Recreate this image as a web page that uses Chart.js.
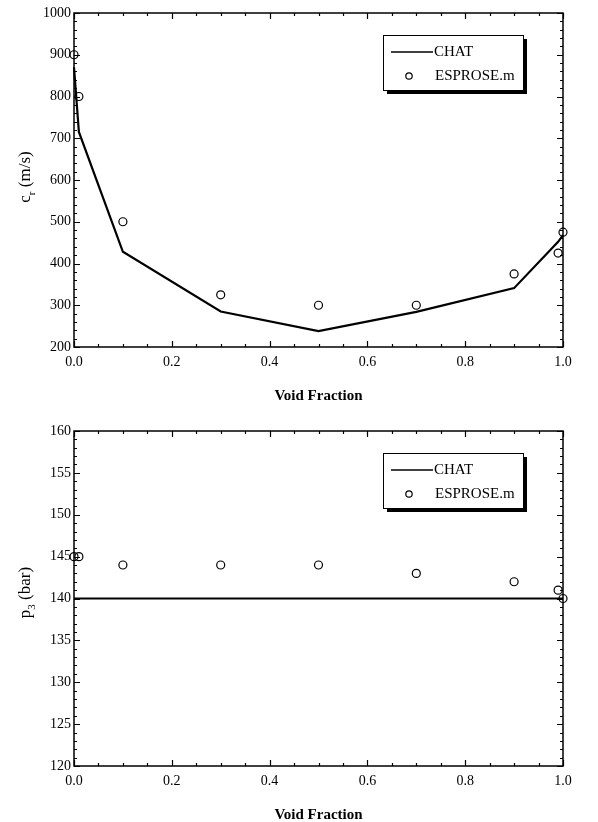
<!DOCTYPE html>
<html lang="en">
<head>
  <meta charset="UTF-8" />
  <title>Void Fraction charts</title>
  <script src="https://cdn.jsdelivr.net/npm/chart.js"></script>
  <style>
    body { margin: 0; background: #fff; }
    .wrap { position: absolute; left: 0; width: 598px; }
    #top { top: 0; height: 415px; }
    #bottom { top: 415px; height: 407px; }
  </style>
</head>
<body>
<div class="wrap" id="top"><canvas id="crChart" width="598" height="415"></canvas></div>
<div class="wrap" id="bottom"><canvas id="p3Chart" width="598" height="407"></canvas></div>

<script>
  // data
  const chatX = [0, 0.01, 0.1, 0.3, 0.5, 0.7, 0.9, 0.99, 1.0];
  const chatCr = [870, 715, 428, 285, 238, 284, 341, 452, 468];
  const esproseX = [0, 0.01, 0.1, 0.3, 0.5, 0.7, 0.9, 0.99, 1.0];
  const esproseCr = [900, 800, 500, 325, 300, 300, 375, 425, 475];
  const chatP3 = [140, 140, 140, 140, 140, 140, 140, 140, 140];
  const esproseP3 = [145, 145, 144, 144, 144, 143, 142, 141, 140];

  const xTicks = [0, 0.2, 0.4, 0.6, 0.8, 1.0];
  const crTicks = [200, 300, 400, 500, 600, 700, 800, 900, 1000];
  const p3Ticks = [120, 125, 130, 135, 140, 145, 150, 155, 160];

  const FONT = '"Liberation Serif", "DejaVu Serif", serif';

  const pts = (xs, ys) => xs.map((x, i) => ({ x, y: ys[i] }));

  // frame, inward ticks on all sides, axis titles, legend with shadow
  const framePlugin = {
    id: 'frame',
    afterDraw(chart, args, opts) {
      const { ctx, chartArea: a, scales } = chart;
      const xs = scales.x, ys = scales.y;
      ctx.save();
      ctx.strokeStyle = '#000';
      ctx.lineWidth = 1.5;
      ctx.strokeRect(a.left, a.top, a.right - a.left, a.bottom - a.top);

      ctx.lineWidth = 1.2;
      ctx.beginPath();
      const xMinor = 0.05;
      for (let v = 0; v <= 1.0001; v += xMinor) {
        const major = Math.abs(v * 5 - Math.round(v * 5)) < 1e-6;
        const len = major ? 6 : 3;
        const px = Math.round(xs.getPixelForValue(v)) + 0.5;
        ctx.moveTo(px, a.bottom); ctx.lineTo(px, a.bottom - len);
        ctx.moveTo(px, a.top); ctx.lineTo(px, a.top + len);
      }
      const yt = opts.yTicks;
      const yStep = (yt[1] - yt[0]) / opts.yMinorPer;
      for (let v = yt[0]; v <= yt[yt.length - 1] + 1e-6; v += yStep) {
        const major = yt.some(t => Math.abs(t - v) < 1e-6);
        const len = major ? 6 : 3;
        const py = Math.round(ys.getPixelForValue(v)) + 0.5;
        ctx.moveTo(a.left, py); ctx.lineTo(a.left + len, py);
        ctx.moveTo(a.right, py); ctx.lineTo(a.right - len, py);
      }
      ctx.stroke();

      // x title
      ctx.fillStyle = '#000';
      ctx.font = 'bold 15px ' + FONT;
      ctx.textAlign = 'center';
      ctx.textBaseline = 'middle';
      ctx.fillText('Void Fraction', (a.left + a.right) / 2, opts.xTitleY);

      // y title with subscript
      ctx.save();
      ctx.translate(opts.yTitleX, (a.top + a.bottom) / 2 + opts.yTitleShift);
      ctx.rotate(-Math.PI / 2);
      ctx.textAlign = 'left';
      ctx.textBaseline = 'alphabetic';
      const big = '17px ' + FONT, small = '11px ' + FONT;
      ctx.font = big; const w1 = ctx.measureText(opts.yMain).width;
      ctx.font = small; const w2 = ctx.measureText(opts.ySub).width;
      ctx.font = big; const w3 = ctx.measureText(opts.yUnit).width;
      let x0 = -(w1 + w2 + w3) / 2;
      ctx.font = big; ctx.fillText(opts.yMain, x0, 5); x0 += w1;
      ctx.font = small; ctx.fillText(opts.ySub, x0, 10); x0 += w2;
      ctx.font = big; ctx.fillText(opts.yUnit, x0, 5);
      ctx.restore();

      // legend
      const lx = 383, ly = opts.legendTop, lw = 140, lh = 55;
      ctx.fillStyle = '#000';
      ctx.fillRect(lx + 4, ly + 4, lw, lh);
      ctx.fillStyle = '#fff';
      ctx.fillRect(lx, ly, lw, lh);
      ctx.lineWidth = 1;
      ctx.strokeStyle = '#000';
      ctx.strokeRect(lx + 0.5, ly + 0.5, lw, lh);
      ctx.lineWidth = 1.5;
      ctx.beginPath();
      ctx.moveTo(lx + 8, ly + 17); ctx.lineTo(lx + 50, ly + 17);
      ctx.stroke();
      ctx.beginPath();
      ctx.arc(lx + 26, ly + 41, 3.2, 0, Math.PI * 2);
      ctx.lineWidth = 1.2;
      ctx.stroke();
      ctx.fillStyle = '#000';
      ctx.font = '15px ' + FONT;
      ctx.textAlign = 'left';
      ctx.textBaseline = 'middle';
      ctx.fillText('CHAT', lx + 51, ly + 17);
      ctx.fillText('ESPROSE.m', lx + 52, ly + 41);
      ctx.restore();
    }
  };

  const makeChart = (id, chatY, espY, yMin, yMax, cfg) => {
    const ctx = document.getElementById(id).getContext('2d');
    return new Chart(ctx, {
      type: 'scatter',
      data: {
        datasets: [
          { label: 'CHAT', data: pts(chatX, chatY), showLine: true, borderColor: '#000',
            borderWidth: 2.2, pointRadius: 0, tension: 0, clip: false, order: 2 },
          { label: 'ESPROSE.m', data: pts(esproseX, espY), showLine: false, borderColor: '#000',
            backgroundColor: 'rgba(0,0,0,0)', borderWidth: 1.2, pointRadius: 4, clip: false, order: 1 }
        ]
      },
      options: {
        responsive: false,
        animation: false,
        layout: { padding: { top: cfg.padTop, right: 35, left: 0, bottom: 0 } },
        plugins: {
          legend: { display: false },
          tooltip: { enabled: false },
          frame: cfg.frame
        },
        scales: {
          x: {
            type: 'linear', min: 0, max: 1,
            grid: { display: false, drawTicks: false },
            border: { display: false },
            afterFit: s => { s.height = cfg.xHeight; },
            afterBuildTicks: s => { s.ticks = xTicks.map(v => ({ value: v })); },
            ticks: { color: '#000', font: { family: FONT, size: 14 }, padding: 7,
              maxRotation: 0, autoSkip: false, callback: v => v.toFixed(1) }
          },
          y: {
            type: 'linear', min: yMin, max: yMax,
            grid: { display: false, drawTicks: false },
            border: { display: false },
            afterFit: s => { s.width = 74; },
            afterBuildTicks: s => { s.ticks = cfg.frame.yTicks.map(v => ({ value: v })); },
            ticks: { color: '#000', font: { family: FONT, size: 14 }, padding: 3,
              autoSkip: false, callback: v => String(v) }
          }
        }
      },
      plugins: [framePlugin]
    });
  };

  makeChart('crChart', chatCr, esproseCr, 200, 1000, {
    padTop: 13, xHeight: 68,
    frame: { yTicks: crTicks, yMinorPer: 5, xTitleY: 396, yTitleX: 25, yTitleShift: -3,
      yMain: 'c', ySub: 'r', yUnit: ' (m/s)', legendTop: 35 }
  });

  makeChart('p3Chart', chatP3, esproseP3, 120, 160, {
    padTop: 16, xHeight: 56,
    frame: { yTicks: p3Ticks, yMinorPer: 5, xTitleY: 400, yTitleX: 25, yTitleShift: -6,
      yMain: 'p', ySub: '3', yUnit: ' (bar)', legendTop: 38 }
  });
</script>
</body>
</html>
